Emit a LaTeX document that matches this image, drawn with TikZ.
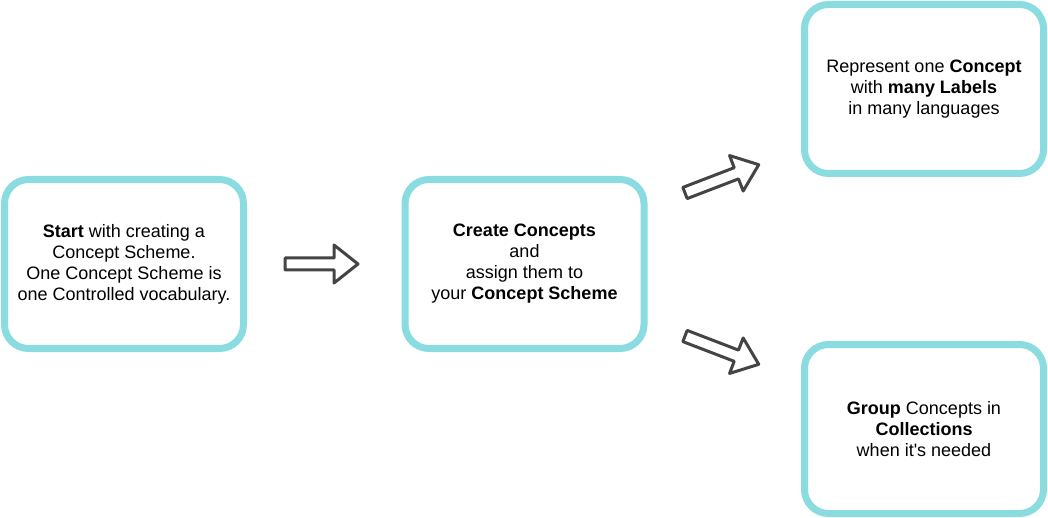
\documentclass[tikz,border=0pt]{standalone}
\usepackage{fontspec}
\setmainfont{Liberation Sans}
\usepackage{tikz}

\definecolor{boxteal}{HTML}{8ADCE0}
\definecolor{arrgray}{HTML}{444444}

\begin{document}
\begin{tikzpicture}[x=1pt,y=-1pt,
        stepbox/.style={draw=boxteal,line width=7pt,rounded corners=24pt,fill=white,
            minimum width=239pt,minimum height=169pt,align=center,
            font=\fontsize{18}{21}\selectfont},
        blockarrow/.pic={\draw[arrgray,line width=3pt,line join=round,fill=white]
            (0,-6)--(#1-24,-6)--(#1-24,-19)--(#1,0)--(#1-24,19)--(#1-24,6)--(0,6)--cycle;}]
    \useasboundingbox (0,0) rectangle (1048,518);    % page size like the reference

    \node[stepbox] (start) at (124,264) {\textbf{Start} with creating a\\Concept Scheme.\\One Concept Scheme is\\one Controlled vocabulary.};
    \node[stepbox] (create) at (524.5,264) {\textbf{Create Concepts}\\and\\assign them to\\your \textbf{Concept Scheme}};
    \node[stepbox] (labels) at (924,89) {Represent one \textbf{Concept}\\with \textbf{many Labels}\\in many languages};
    \node[stepbox] (group) at (924,429) {\textbf{Group} Concepts in\\\textbf{Collections}\\when it\textquotesingle s needed};

    \pic at (285,264) {blockarrow=73};    % start -> create
    \pic[rotate=21] at (685,193) {blockarrow=79};    % create -> labels
    \pic[rotate=-21] at (685,336) {blockarrow=79};    % create -> group
\end{tikzpicture}
\end{document}
